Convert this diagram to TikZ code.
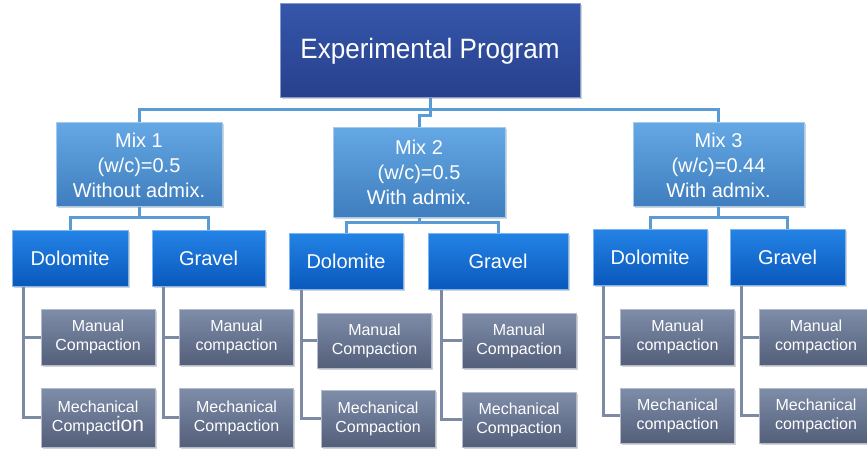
\documentclass[tikz,border=0pt]{standalone}
\usepackage{fontspec}
\setmainfont{Liberation Sans}
\newfontfamily\titlefont[FakeStretch=0.93]{Liberation Sans}
\usetikzlibrary{shadows}
\definecolor{topblue}{HTML}{3556AA}
\definecolor{topblued}{HTML}{27408C}
\definecolor{mixblue}{HTML}{64A8E4}
\definecolor{mixblued}{HTML}{3F7DBE}
\definecolor{aggblue}{HTML}{2483E6}
\definecolor{aggblued}{HTML}{0A58BC}
\definecolor{compgray}{HTML}{7E8DA8}
\definecolor{compgrayd}{HTML}{545F7A}
\definecolor{linkblue}{HTML}{5B9BD5}
\definecolor{linkgray}{HTML}{7D8AA3}

\begin{document}
\begin{tikzpicture}[x=1pt,y=-1pt,
    box/.style={rectangle,text=white,align=center,inner sep=0pt,
      drop shadow={opacity=0.35,shadow xshift=1.5pt,shadow yshift=-1.5pt}},
    progbox/.style={box,top color=topblue,bottom color=topblued,draw=topblue!60!white,
      line width=1pt,minimum width=300pt,minimum height=94pt,font=\titlefont\fontsize{28}{32}\selectfont},
    mixbox/.style={box,top color=mixblue,bottom color=mixblued,draw=mixblue!60!white,
      line width=1pt,font=\fontsize{20}{25}\selectfont},
    aggbox/.style={box,top color=aggblue,bottom color=aggblued,draw=aggblue!60!white,
      line width=1pt,minimum height=56pt,font=\fontsize{20}{24}\selectfont},
    compbox/.style={box,top color=compgray,bottom color=compgrayd,draw=compgray!60!white,
      line width=1pt,minimum width=114pt,font=\fontsize{16}{19}\selectfont},
    link/.style={draw=linkblue,line width=3pt},
    trunk/.style={draw=linkgray,line width=3pt}]
  \useasboundingbox (0,0) rectangle (867,449);
  \clip (0,0) rectangle (867,449);

  \draw[link] (430,51) -- ++(0,59) -| (139,165);
  \draw[link] (430,110) -| (718,165);
  \draw[link] (430,100) -- ++(0,16) -| (419,172);

  \node[progbox] (prog) at (430,51) {Experimental Program};

  \node[mixbox,minimum width=166pt,minimum height=84pt] (mix1) at (139,165) {Mix 1\\(w/c)=0.5\\Without admix.};
  \node[mixbox,minimum width=172pt,minimum height=89pt] (mix2) at (419,172.5) {Mix 2\\(w/c)=0.5\\With admix.};
  \node[mixbox,minimum width=171pt,minimum height=84pt] (mix3) at (718.5,165) {Mix 3\\(w/c)=0.44\\With admix.};

  \node[aggbox,minimum width=116pt] (dol1) at (70,258.5) {Dolomite};
  \node[aggbox,minimum width=113pt] (gra1) at (208.5,258.5) {Gravel};
  \node[aggbox,minimum width=114pt] (dol2) at (346,261) {Dolomite};
  \node[aggbox,minimum width=140pt] (gra2) at (498,261.5) {Gravel};
  \node[aggbox,minimum width=114pt] (dol3) at (650,257) {Dolomite};
  \node[aggbox,minimum width=115pt] (gra3) at (787.5,257) {Gravel};

  \draw[link] (mix1.south) -- ++(0,10) -| (dol1.north);
  \draw[link] (mix1.south) -- ++(0,10) -| (gra1.north);
  \draw[link] (mix2.south) -- ++(0,5) -| (dol2.north);
  \draw[link] (mix2.south) -- ++(0,5) -| (gra2.north);
  \draw[link] (mix3.south) -- ++(0,10) -| (dol3.north);
  \draw[link] (mix3.south) -- ++(0,10) -| (gra3.north);

  \node[compbox,minimum height=56pt] (man11) at (98,337) {Manual\\Compaction};
  \node[compbox,minimum height=59pt] (mec11) at (98,417.5) {Mechanical\\Compact{\fontsize{21}{19}\selectfont ion}};
  \node[compbox,minimum height=56pt] (man12) at (236.5,337) {Manual\\compaction};
  \node[compbox,minimum height=59pt] (mec12) at (236.5,417.5) {Mechanical\\Compaction};
  \node[compbox,minimum height=55pt] (man21) at (374.5,340.5) {Manual\\Compaction};
  \node[compbox,minimum height=57pt] (mec21) at (378,418.5) {Mechanical\\Compaction};
  \node[compbox,minimum height=55pt] (man22) at (519,340.5) {Manual\\Compaction};
  \node[compbox,minimum height=55pt] (mec22) at (519,419.5) {Mechanical\\Compaction};
  \node[compbox,minimum height=56pt] (man31) at (677.5,337) {Manual\\compaction};
  \node[compbox,minimum height=55pt] (mec31) at (677.5,415.5) {Mechanical\\compaction};
  \node[compbox,minimum height=56pt] (man32) at (816,337) {Manual\\compaction};
  \node[compbox,minimum height=55pt] (mec32) at (816,415.5) {Mechanical\\compaction};

  \draw[trunk] (dol1.south west) ++(12,0) |- (man11.west);
  \draw[trunk] (dol1.south west) ++(12,0) |- (mec11.west);
  \draw[trunk] (gra1.south west) ++(12,0) |- (man12.west);
  \draw[trunk] (gra1.south west) ++(12,0) |- (mec12.west);
  \draw[trunk] (dol2.south west) ++(13,0) |- (man21.west);
  \draw[trunk] (dol2.south west) ++(13,0) |- (mec21.west);
  \draw[trunk] (gra2.south west) ++(14,0) |- (man22.west);
  \draw[trunk] (gra2.south west) ++(14,0) |- (mec22.west);
  \draw[trunk] (dol3.south west) ++(11,0) |- (man31.west);
  \draw[trunk] (dol3.south west) ++(11,0) |- (mec31.west);
  \draw[trunk] (gra3.south west) ++(12,0) |- (man32.west);
  \draw[trunk] (gra3.south west) ++(12,0) |- (mec32.west);
\end{tikzpicture}
\end{document}
